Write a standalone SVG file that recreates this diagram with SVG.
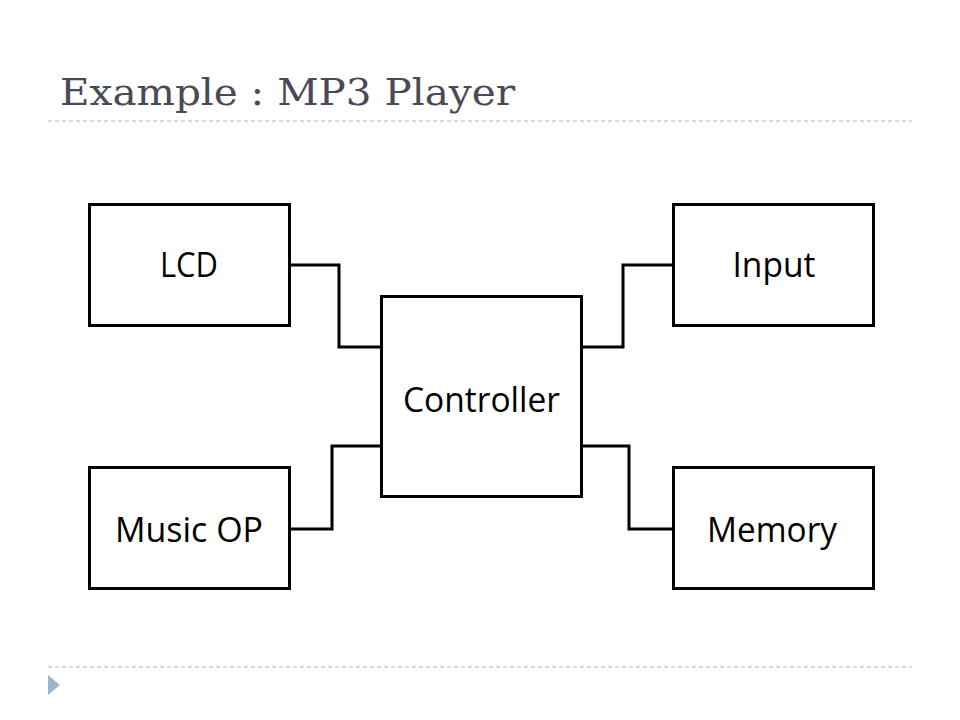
<svg xmlns="http://www.w3.org/2000/svg" width="960" height="720" viewBox="0 0 960 720">
<style>
.box{fill:#fff;stroke:#000;stroke-width:3}
.lbl{font-family:"Open Sans","Liberation Sans",sans-serif;font-size:34px;fill:#000;text-anchor:middle}
.wire{fill:none;stroke:#000;stroke-width:3;stroke-linejoin:miter}
.dash{stroke:#9fb8c8;stroke-width:1;stroke-dasharray:4 3}
</style>
<rect width="960" height="720" fill="#fff"/>
<text x="60" y="105" font-family="DejaVu Serif, serif" font-size="38" fill="#4a4a57" textLength="455" lengthAdjust="spacingAndGlyphs">Example : MP3 Player</text>
<line class="dash" x1="48" y1="121" x2="912" y2="121"/>
<line class="dash" x1="48" y1="667" x2="912" y2="667"/>
<polygon points="48,675 60,685 48,695" fill="#9db5cc"/>
<g id="connectors">
<polyline class="wire" points="290,265 339,265 339,347 381,347"/>
<polyline class="wire" points="582,347 623,347 623,265 673,265"/>
<polyline class="wire" points="290,529 332,529 332,446 381,446"/>
<polyline class="wire" points="582,446 629,446 629,529 673,529"/>
</g>
<g id="lcd"><rect class="box" x="89.5" y="204.5" width="200" height="121"/><text class="lbl" x="189" y="277" textLength="58" lengthAdjust="spacingAndGlyphs">LCD</text></g>
<g id="input"><rect class="box" x="673.5" y="204.5" width="200" height="121"/><text class="lbl" x="774" y="277" textLength="83" lengthAdjust="spacingAndGlyphs">Input</text></g>
<g id="controller"><rect class="box" x="381.5" y="296.5" width="200" height="200"/><text class="lbl" x="481.5" y="412" textLength="157" lengthAdjust="spacingAndGlyphs">Controller</text></g>
<g id="musicop"><rect class="box" x="89.5" y="467.5" width="200" height="121"/><text class="lbl" x="189" y="542" textLength="148" lengthAdjust="spacingAndGlyphs">Music OP</text></g>
<g id="memory"><rect class="box" x="673.5" y="467.5" width="200" height="121"/><text class="lbl" x="772" y="542" textLength="130" lengthAdjust="spacingAndGlyphs">Memory</text></g>
</svg>
